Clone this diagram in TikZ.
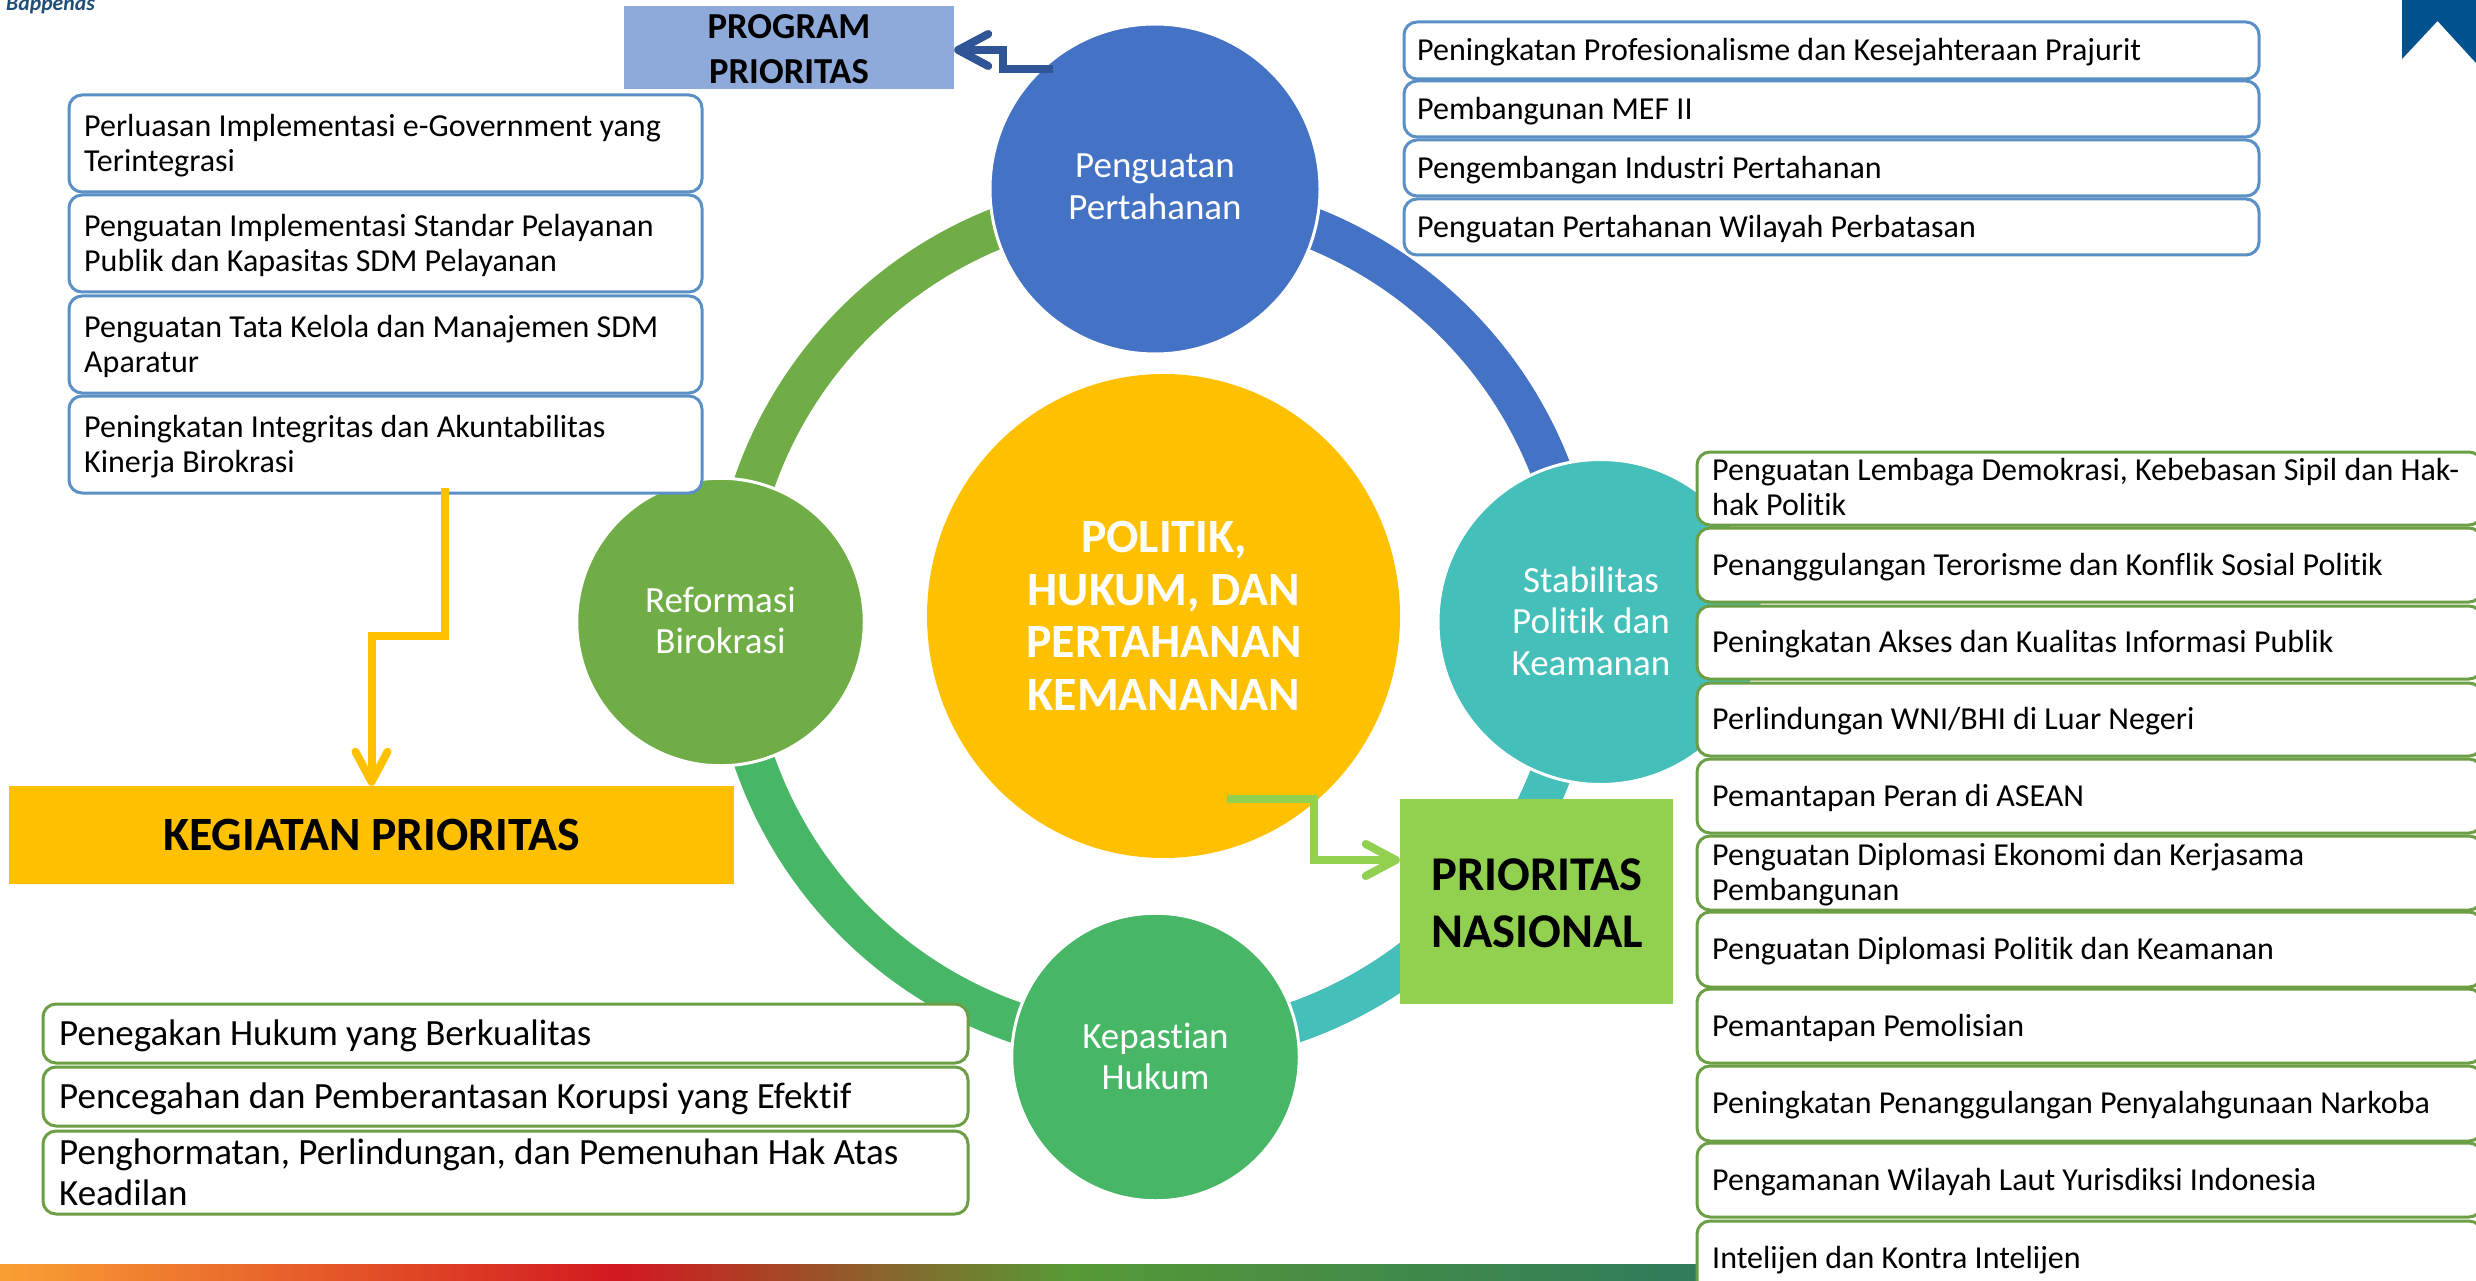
\documentclass[tikz,border=0pt]{standalone}
\usepackage{fontspec}
\setmainfont[Ligatures=NoCommon]{Carlito}
\usetikzlibrary{arrows.meta,calc,shapes.geometric}
\definecolor{cblue}{HTML}{4472C4}
\definecolor{cteal}{HTML}{44BFB9}
\definecolor{cgreen}{HTML}{47B666}
\definecolor{colive}{HTML}{70AD47}
\definecolor{cgold}{HTML}{FFC000}
\definecolor{cprog}{HTML}{8EAADB}
\definecolor{cnas}{HTML}{92D050}
\definecolor{cbord}{HTML}{5B90C6}
\definecolor{gbord}{HTML}{6C9F45}
\definecolor{cdark}{HTML}{2F5597}
\definecolor{cflag}{HTML}{00528F}
\definecolor{clogo}{HTML}{1F4E79}
\tikzset{
  ringseg/.style={line width=41pt,line cap=butt},
  hub/.style={circle,draw=white,line width=3pt,inner sep=0pt},
  hubtext/.style={text=white,align=center,font=\fontsize{37}{41.5}\selectfont},
  item/.style={rectangle,rounded corners=13pt,fill=white,line width=3pt,inner sep=0pt},
  blueitem/.style={item,draw=cbord},
  greenitem/.style={item,draw=gbord},
  itemtext/.style={inner sep=0pt,align=left,text=black,yshift=-1.8pt,font=\fontsize{32}{35}\selectfont},
  lawtext/.style={itemtext,yshift=-1pt,font=\fontsize{37}{40.5}\selectfont},
  banner/.style={rectangle,inner sep=0pt,text=black,align=center},
  elbow/.style={line width=8pt,line join=miter},
  barbtip/.style={-{Straight Barb[length=30pt,width=32pt,round]}}
}
% name, x1, y1, x2, y2, pad, box style, text style, text
\newcommand{\itembox}[9]{%
  \pgfmathsetmacro{\bw}{#4-#2}\pgfmathsetmacro{\bh}{#5-#3}%
  \node[#7,minimum width=\bw pt,minimum height=\bh pt] (#1) at ({(#2+#4)/2},{(#3+#5)/2}) {};
  \node[#8,anchor=west] (#1t) at ([xshift=#6 pt]#1.west) {#9};}
\begin{document}
\begin{tikzpicture}[x=1pt,y=-1pt]
\clip (0,0) rectangle (2476,1281);
% gradient bar
\shade[left color={rgb,255:red,249;green,160;blue,51},right color={rgb,255:red,210;green,24;blue,31}] (0,1264) rectangle (620,1281);
\shade[left color={rgb,255:red,210;green,24;blue,31},right color={rgb,255:red,86;green,154;blue,53}] (619,1264) rectangle (1070,1281);
\shade[left color={rgb,255:red,86;green,154;blue,53},right color={rgb,255:red,47;green,123;blue,92}] (1069,1264) rectangle (1700,1281);
% ring
\coordinate (rc) at (1155,622);
\draw[ringseg,cblue]  ($(rc)+(270:424)$) arc[start angle=270,end angle=360,radius=424];
\draw[ringseg,cteal]  ($(rc)+(0:424)$) arc[start angle=0,end angle=90,radius=424];
\draw[ringseg,cgreen] ($(rc)+(90:424)$) arc[start angle=90,end angle=180,radius=424];
\draw[ringseg,colive] ($(rc)+(180:424)$) arc[start angle=180,end angle=270,radius=424];
% hubs
\node[hub,fill=cblue,minimum size=330pt] (hperta) at (1155,189) {};
\node[hub,fill=cteal,minimum size=325pt] (hstab) at (1600.5,622) {};
\node[hub,fill=colive,minimum size=287.5pt] (hrb) at (720.5,622) {};
\node[hub,fill=cgreen,minimum size=287.5pt] (hkh) at (1155.5,1057) {};
\node[ellipse,fill=cgold,inner sep=0pt,minimum width=473pt,minimum height=484pt] (hcore) at (1163.5,616) {};
\node[hubtext] (tperta) at (1155,187) {Penguatan\\Pertahanan};
\node[hubtext] (tstab) at (1591,621) {Stabilitas\\Politik dan\\Keamanan};
\node[hubtext] (trb) at (720.5,620.5) {Reformasi\\Birokrasi};
\node[hubtext] (tkh) at (1155.5,1056.5) {Kepastian\\Hukum};
\node[text=white,align=center,font=\fontsize{47.8}{52.5}\selectfont\bfseries] (tcore) at (1164,616) {POLITIK,\\HUKUM, DAN\\PERTAHANAN\\KEMANANAN};
% banners
\node[banner,fill=cprog,minimum width=330pt,minimum height=83pt] (prog) at (789,47.5) {};
\node[banner,font=\fontsize{36.6}{45}\selectfont\bfseries] (tprog) at (789,49) {PROGRAM\\PRIORITAS};
\node[banner,fill=cgold,minimum width=725pt,minimum height=98pt,font=\fontsize{47.8}{50}\selectfont\bfseries] (keg) at (371.5,835) {KEGIATAN PRIORITAS};
\node[banner,fill=cnas,minimum width=273pt,minimum height=205pt] (nas) at (1536.5,901.5) {};
\node[banner,font=\fontsize{48.5}{57}\selectfont\bfseries] (tnas) at (1537,903) {PRIORITAS\\NASIONAL};
% left boxes
\itembox{la}{69}{95}{702}{192}{16.5}{blueitem}{itemtext}{Perluasan Implementasi e-Government yang\\Terintegrasi}
\itembox{lb}{69}{195}{702}{292}{16.5}{blueitem}{itemtext}{Penguatan Implementasi Standar Pelayanan\\Publik dan Kapasitas SDM Pelayanan}
\itembox{lc}{69}{296}{702}{393}{16.5}{blueitem}{itemtext}{Penguatan Tata Kelola dan Manajemen SDM\\Aparatur}
\itembox{ld}{69}{396}{702}{493}{16.5}{blueitem}{itemtext}{Peningkatan Integritas dan Akuntabilitas\\Kinerja Birokrasi}
% top right boxes
\itembox{ta}{1404}{22}{2259}{79}{14.5}{blueitem}{itemtext}{Peningkatan Profesionalisme dan Kesejahteraan Prajurit}
\itembox{tb}{1404}{81}{2259}{137}{14.5}{blueitem}{itemtext}{Pembangunan MEF II}
\itembox{tc}{1404}{140}{2259}{196}{14.5}{blueitem}{itemtext}{Pengembangan Industri Pertahanan}
\itembox{td}{1404}{199}{2259}{255}{14.5}{blueitem}{itemtext}{Penguatan Pertahanan Wilayah Perbatasan}
% right boxes
\itembox{ra}{1697}{452}{2482}{525}{16.5}{greenitem}{itemtext,yshift=3pt}{Penguatan Lembaga Demokrasi, Kebebasan Sipil dan Hak-\\hak Politik}
\itembox{rb}{1697}{528}{2482}{602}{16.5}{greenitem}{itemtext}{Penanggulangan Terorisme dan Konflik Sosial Politik}
\itembox{rc2}{1697}{606}{2482}{679}{16.5}{greenitem}{itemtext}{Peningkatan Akses dan Kualitas Informasi Publik}
\itembox{rd}{1697}{683}{2482}{756}{16.5}{greenitem}{itemtext}{Perlindungan WNI/BHI di Luar Negeri}
\itembox{re}{1697}{759}{2482}{833}{16.5}{greenitem}{itemtext}{Pemantapan Peran di ASEAN}
\itembox{rf}{1697}{836}{2482}{910}{16.5}{greenitem}{itemtext}{Penguatan Diplomasi Ekonomi dan Kerjasama\\Pembangunan}
\itembox{rg}{1697}{912}{2482}{987}{16.5}{greenitem}{itemtext}{Penguatan Diplomasi Politik dan Keamanan}
\itembox{rh}{1697}{989}{2482}{1063}{16.5}{greenitem}{itemtext}{Pemantapan Pemolisian}
\itembox{ri}{1697}{1066}{2482}{1141}{16.5}{greenitem}{itemtext}{Peningkatan Penanggulangan Penyalahgunaan Narkoba}
\itembox{rj}{1697}{1143}{2482}{1217}{16.5}{greenitem}{itemtext}{Pengamanan Wilayah Laut Yurisdiksi Indonesia}
\itembox{rk}{1697}{1221}{2482}{1295}{16.5}{greenitem}{itemtext}{Intelijen dan Kontra Intelijen}
% law boxes
\itembox{ba}{43}{1004}{968}{1063}{17.5}{greenitem}{lawtext}{Penegakan Hukum yang Berkualitas}
\itembox{bb}{43}{1067}{968}{1126}{17.5}{greenitem}{lawtext}{Pencegahan dan Pemberantasan Korupsi yang Efektif}
\itembox{bc}{43}{1131}{968}{1214}{17.5}{greenitem}{lawtext,yshift=3pt}{Penghormatan, Perlindungan, dan Pemenuhan Hak Atas\\Keadilan}
% connectors
\coordinate (yfrom) at (445,488);
\coordinate (gfrom) at (1227,799);
\coordinate (bfrom) at (1053,69);
\coordinate (gto) at (nas.west |- 0,860);
\coordinate (bto) at (prog.east |- 0,50);
\draw[elbow,cgold,barbtip] (yfrom) -- (445,636) -- (keg.north |- 0,636) -- (keg.north);
\draw[elbow,cnas,barbtip] (gfrom) -- (1314,799) -- (1314,860) -- (gto);
\draw[elbow,cdark,barbtip] (bfrom) -- (1003,69) -- (1003,50) -- (bto);
% logo text and flag
\node[anchor=base west,inner sep=0pt,text=clogo,font=\fontsize{21.7}{22}\selectfont\bfseries\itshape] (logo) at (6,11) {Bappenas};
\fill[cflag] (2402,0) -- (2476,0) -- (2476,63) -- (2437.5,21) -- (2402,59) -- cycle;
\end{tikzpicture}
\end{document}
